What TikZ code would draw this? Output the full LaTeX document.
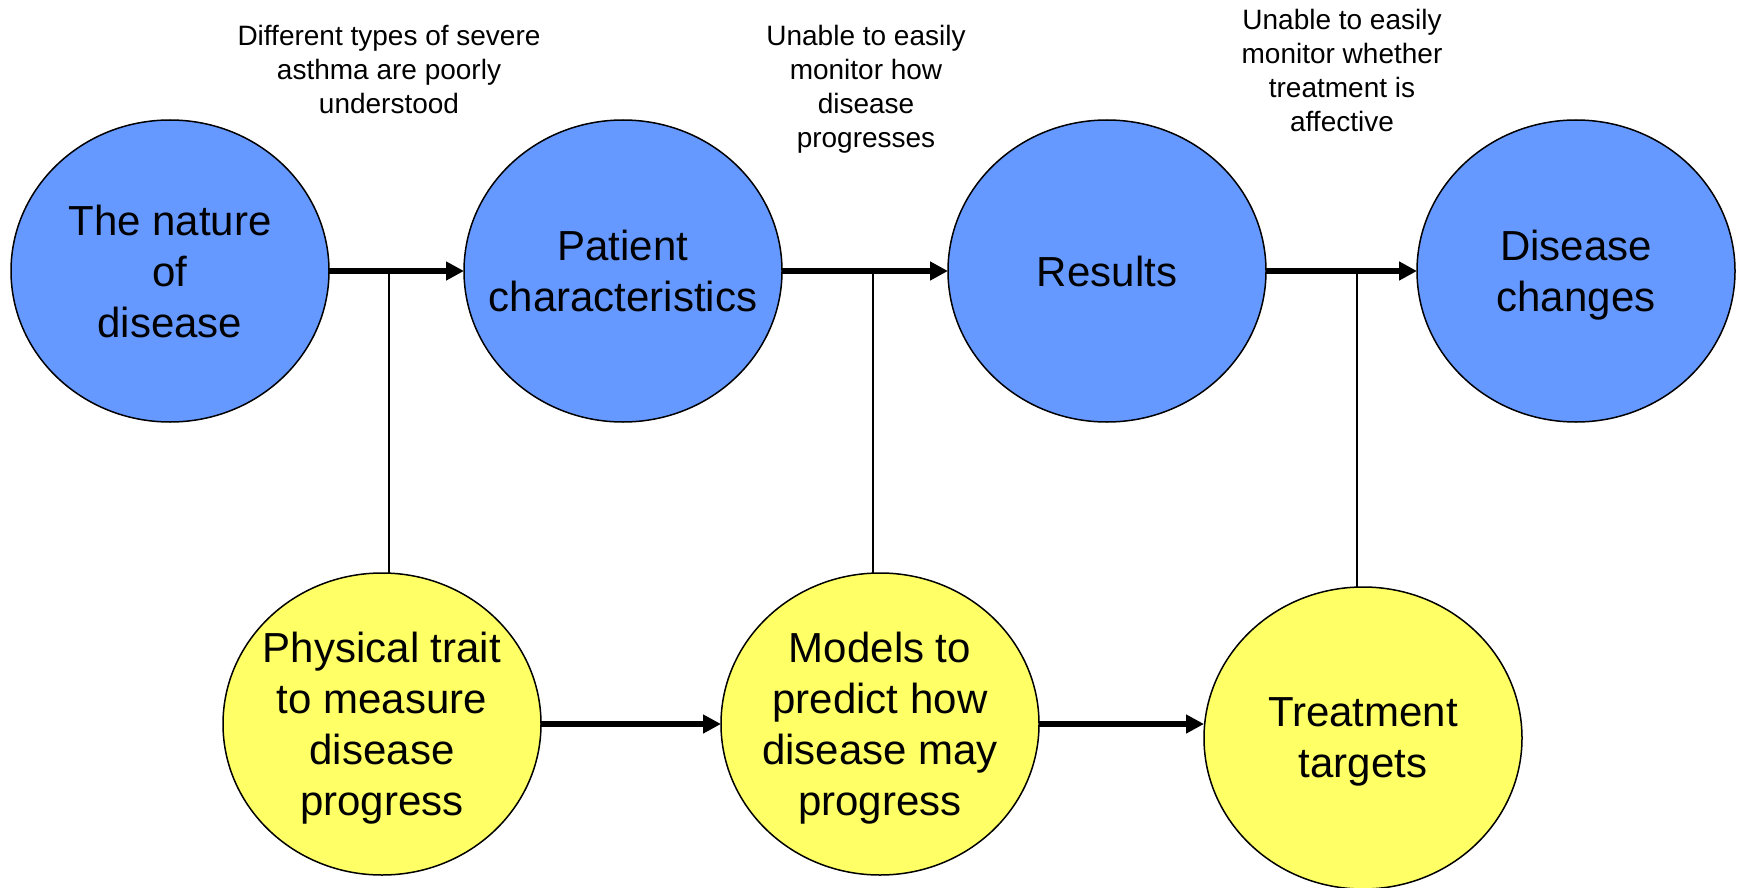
\documentclass[tikz,border=0pt]{standalone}
\usepackage{fontspec}
\setmainfont{Liberation Sans}
\usetikzlibrary{shapes.geometric,arrows.meta}
\definecolor{bluefill}{RGB}{102,153,255}
\definecolor{yellowfill}{RGB}{255,255,102}
\begin{document}
\begin{tikzpicture}[x=1pt,y=-1pt,
  oval/.style={ellipse,draw=black,line width=1.5pt,minimum width=318pt,minimum height=302pt,inner sep=0pt,outer sep=0pt},
  blueoval/.style={oval,fill=bluefill},
  yellowoval/.style={oval,fill=yellowfill},
  bigtxt/.style={align=center,font=\fontsize{42}{51}\selectfont,text depth=0pt,inner sep=0pt},
  note/.style={align=center,font=\fontsize{28}{34}\selectfont,text depth=0pt,inner sep=0pt},
  flow/.style={line width=5.5pt,-{Triangle[length=18pt,width=18pt]}},
  link/.style={line width=1.5pt}]
\useasboundingbox (0,0) rectangle (1737,888);

% top row
\node[blueoval] (n1) at (170,271) {};
\node[bigtxt] (t1) at (n1) {The nature\\of\\disease};
\node[blueoval] (n2) at (623,271) {};
\node[bigtxt] (t2) at (n2) {Patient\\characteristics};
\node[blueoval] (n3) at (1107,271) {};
\node[bigtxt] (t3) at (n3) {Results};
\node[blueoval] (n4) at (1576,271) {};
\node[bigtxt] (t4) at (n4) {Disease\\changes};

% bottom row
\node[yellowoval] (y1) at (382,724) {};
\node[bigtxt] (u1) at (y1) {Physical trait\\to measure\\disease\\progress};
\node[yellowoval] (y2) at (880,724) {};
\node[bigtxt] (u2) at (y2) {Models to\\predict how\\disease may\\progress};
\node[yellowoval] (y3) at (1363,738) {};
\node[bigtxt] (u3) at (y3) {Treatment\\targets};

% annotations
\node[note] (a1) at (389,69.2) {Different types of severe\\asthma are poorly\\understood};
\node[note] (a2) at (866,86.8) {Unable to easily\\monitor how\\disease\\progresses};
\node[note] (a3) at (1342,70.3) {Unable to easily\\monitor whether\\treatment is\\affective};

% junctions
\coordinate (j1) at (389,271);
\coordinate (j2) at (873,271);
\coordinate (j3) at (1357,271);
\draw[link] (j1) -- (j1 |- y1.north);
\draw[link] (j2) -- (j2 |- y2.north);
\draw[link] (j3) -- (j3 |- y3.north);

% arrows
\draw[flow] (n1.east) -- (n2.west);
\draw[flow] (n2.east) -- (n3.west);
\draw[flow] (n3.east) -- (n4.west);
\draw[flow] (y1.east) -- (y2.west);
\draw[flow] (y2.east) -- (y2.east -| y3.west);
\end{tikzpicture}
\end{document}
